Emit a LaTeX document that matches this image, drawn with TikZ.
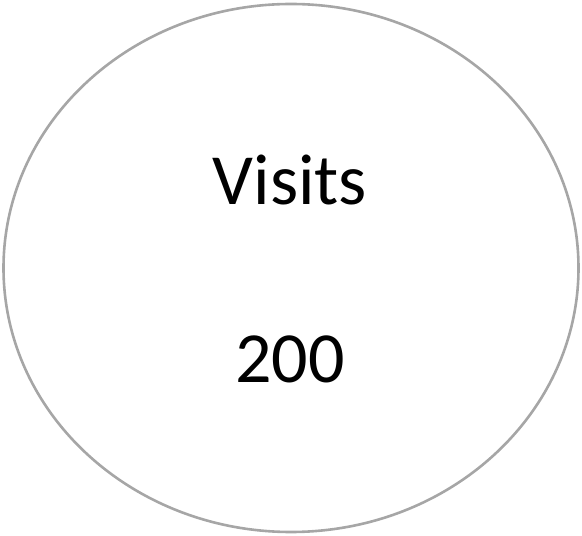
\documentclass[tikz,border=0pt]{standalone}
\usepackage{fontspec}
\setmainfont{Carlito}
\usetikzlibrary{positioning,shapes.geometric}
\definecolor{rimgray}{HTML}{A6A6A6}

\begin{document}
\begin{tikzpicture}[x=1pt,y=1pt]
    \tikzset{
        visitbubble/.style={ellipse, draw=rimgray, line width=2.6pt, minimum width=575pt, minimum height=528pt, inner sep=0pt},
        bubbletext/.style={font=\fontsize{72}{80}\selectfont, anchor=base, inner sep=0pt}
    }
    \useasboundingbox (0,0) rectangle (582,536);

    % the bubble and its two lines of text
    \node[visitbubble] (bubble) at (291,268) {};
    \node[bubbletext] (label) at (290,331) {Visits};
    \node[bubbletext] (count) at (290,153) {200};
\end{tikzpicture}
\end{document}
